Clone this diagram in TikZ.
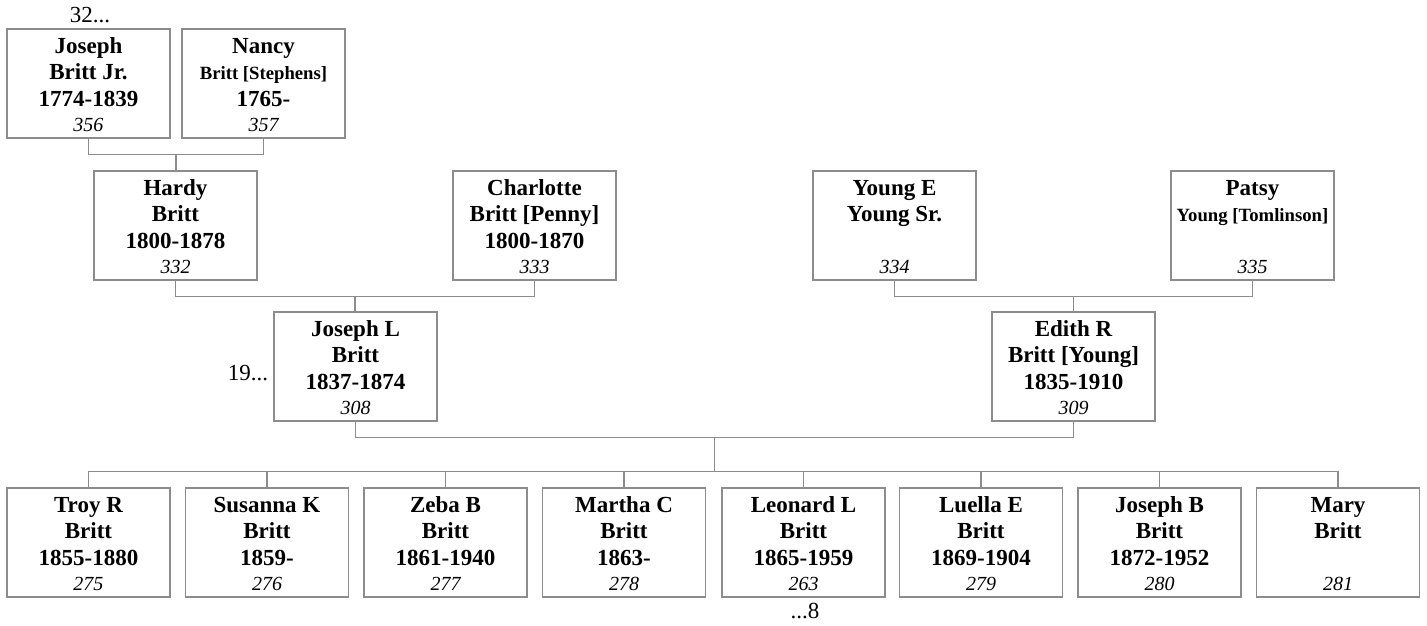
\documentclass[tikz,border=0pt]{standalone}
\usepackage{fontspec}
\setmainfont{Liberation Serif}
\usetikzlibrary{calc}
\definecolor{boxgray}{RGB}{140,140,140}
\newcommand\pname[4]{\rule{0pt}{18.5pt}#1\\#2\\[1pt]#3\\[-1pt]{\fontsize{20}{26}\selectfont\mdseries\itshape #4}}
\newcommand\psmall[1]{{\fontsize{18.7}{26}\selectfont #1}}
\begin{document}
\begin{tikzpicture}[x=1pt,y=-1pt,
  person/.style={draw=boxgray, line width=1.2pt, minimum width=163pt, minimum height=109pt,
    inner sep=0pt, align=center, font=\fontsize{23}{26}\selectfont\bfseries},
  link/.style={draw=boxgray, line width=1.2pt},
  more/.style={font=\fontsize{23}{26}\selectfont, inner sep=0pt}]
\useasboundingbox (0,0) rectangle (1427,626);

% generation 1
\node[person] (js) at (88.5,83.5) {\pname{Joseph}{Britt Jr.}{1774-1839}{356}};
\node[person] (nancy) at (263.5,83.5) {\pname{Nancy}{\psmall{Britt [Stephens]}}{1765-}{357}};
% generation 2
\node[person] (hardy) at (175.5,225.5) {\pname{Hardy}{Britt}{1800-1878}{332}};
\node[person] (charlotte) at (534.5,225.5) {\pname{Charlotte}{Britt [Penny]}{1800-1870}{333}};
\node[person] (younge) at (894.5,225.5) {\pname{Young E}{Young Sr.}{}{334}};
\node[person] (patsy) at (1252.5,225.5) {\pname{Patsy}{\psmall{Young [Tomlinson]}}{}{335}};
% generation 3
\node[person] (josephl) at (355.5,366.5) {\pname{Joseph L}{Britt}{1837-1874}{308}};
\node[person] (edith) at (1073.5,366.5) {\pname{Edith R}{Britt [Young]}{1835-1910}{309}};
% children
\node[person] (k1) at (88.5,542.5) {\pname{Troy R}{Britt}{1855-1880}{275}};
\node[person] (k2) at (267,542.5) {\pname{Susanna K}{Britt}{1859-}{276}};
\node[person] (k3) at (445.5,542.5) {\pname{Zeba B}{Britt}{1861-1940}{277}};
\node[person] (k4) at (624,542.5) {\pname{Martha C}{Britt}{1863-}{278}};
\node[person] (k5) at (803.5,542.5) {\pname{Leonard L}{Britt}{1865-1959}{263}};
\node[person] (k6) at (981,542.5) {\pname{Luella E}{Britt}{1869-1904}{279}};
\node[person] (k7) at (1159.5,542.5) {\pname{Joseph B}{Britt}{1872-1952}{280}};
\node[person] (k8) at (1338,542.5) {\pname{Mary}{Britt}{}{281}};

% continuation marks
\node[more] (m32) at (90,15) {32...};
\node[more] (m19) at (248,373) {19...};
\node[more] (m8) at (805,611) {...8};

% couples and descent
\coordinate (c1) at ($(js.south)!.5!(nancy.south)+(0,16)$);
\draw[link] (js.south) |- (c1) -| (nancy.south);
\draw[link] (c1) -- (c1 |- hardy.north);

\coordinate (c2) at ($(hardy.south)!.5!(charlotte.south)+(0,16)$);
\draw[link] (hardy.south) |- (c2) -| (charlotte.south);
\draw[link] (c2) -- (c2 |- josephl.north);

\coordinate (c3) at ($(younge.south)!.5!(patsy.south)+(0,16)$);
\draw[link] (younge.south) |- (c3) -| (patsy.south);
\draw[link] (c3) -- (c3 |- edith.north);

\coordinate (c4) at ($(josephl.south)!.5!(edith.south)+(0,16)$);
\draw[link] (josephl.south) |- (c4) -| (edith.south);
\coordinate (bus) at ($(c4 |- k1.north)+(0,-16)$);
\draw[link] (c4) -- (bus);
\draw[link] (k1.north) -- ++(0,-16) -| (k8.north);
\foreach \k in {k2,k3,k4,k5,k6,k7}
  \draw[link] (\k.north) -- ++(0,-16);
\end{tikzpicture}
\end{document}
